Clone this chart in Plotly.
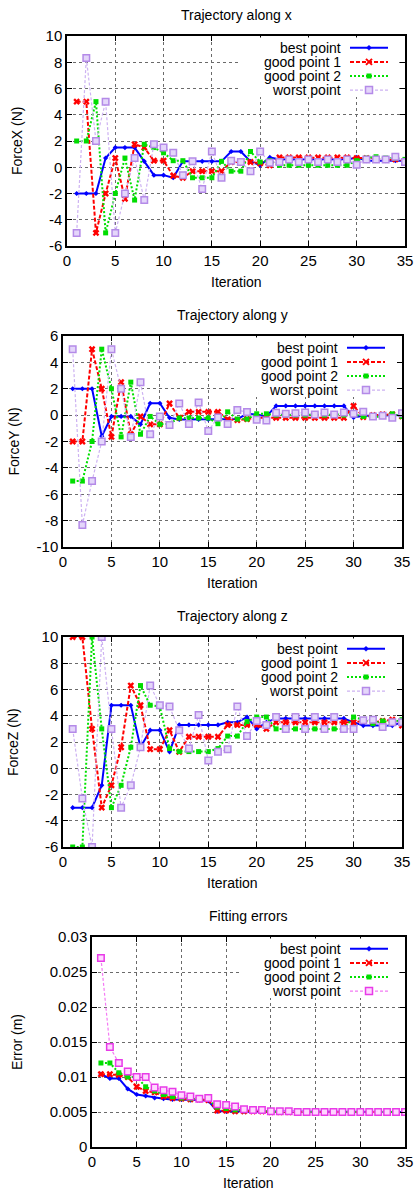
import plotly.graph_objects as go

W, H = 414, 1192

iterations = list(range(1, 36))

# ---- Trajectory along x ----
best_x = [-2, -2, -2, 0.7, 1.5, 1.5, 1.5, 0.45, -0.6, -0.6, -0.8, 0.45, 0.45, 0.45, 0.45, 0.45, 1.2, 1.2,
          0.45, 0.15, 0.75, 0.6, 0.6, 0.6, 0.6, 0.6, 0.6, 0.6, 0.6, 0.75, 0.5, 0.5, 0.5, 0.5, 0.5]
good1_x = [5, 5, -5, -2, 0.7, -2.4, 1.75, 1.5, 0.5, 0.5, -0.65, -0.8, -0.3, -0.3, -0.3, -0.3, 0.4, 0.4,
           0.4, 0.3, 0.15, 0.75, 0.75, 0.75, 0.75, 0.75, 0.75, 0.75, 0.75, 0.7, 0.7, 0.6, 0.6, 0.6, 0.5]
good2_x = [2, 2, 5, -5, -2, 0.7, -2.5, 1.75, 1.5, 1.1, 0.5, 0.5, -0.8, -0.8, -0.8, 0.45, -0.3, -0.3,
           1.2, 0.4, 0.5, 0.15, 0.15, 0.15, 0.15, 0.15, 0.15, 0.15, 0.15, 0.5, 0.7, 0.8, 0.7, 0.7, 0.6]
worst_x = [-5, 8.33, 2, 5, -5, -2, 0.7, -2.5, 1.75, 1.5, 1.1, -0.6, 0.45, -1.65, 1.2, -0.8, 0.5, 0.4,
           -0.3, 1.2, 0.35, 0.4, 0.6, 0.4, 0.6, 0.4, 0.6, 0.4, 0.6, 0.2, 0.6, 0.6, 0.6, 0.8, 0.4]

# ---- Trajectory along y ----
best_y = [2, 2, 2, -1.6, -0.1, -0.1, -0.1, -0.7, 0.9, 0.9, -0.2, -0.33, -0.33, -0.33, -0.33, -0.33, -0.33,
          -0.3, 0.1, 0.05, -0.1, 0.7, 0.7, 0.7, 0.7, 0.7, 0.7, 0.7, 0.7, -0.18, -0.05, -0.05, -0.05, -0.05, 0.0]
good1_y = [-2, -2, 5, 2, -1.65, 2.5, -1.45, -0.1, -0.7, -0.7, 0.88, -0.2, 0.25, 0.25, 0.25, 0.25, -0.33,
           -0.38, -0.3, -0.2, -0.2, -0.2, -0.2, -0.2, -0.2, -0.2, -0.2, -0.2, -0.2, 0.7, -0.15, 0.0, 0.05, 0.05, -0.1]
good2_y = [-5, -5, -2, 5, 2, -1.65, 2.5, -1.45, -0.1, -0.7, -0.65, -0.22, -0.22, -0.22, -0.22, -0.65, 0.25,
           -0.3, -0.3, 0.1, 0.1, 0.0, 0.0, 0.0, 0.0, 0.0, 0.0, 0.0, 0.0, 0.05, -0.1, -0.15, -0.1, 0.1, -0.1]
worst_y = [5, -8.33, -5, -2, 5, 2, -1.65, 2.5, -1.45, -0.1, -0.75, 0.88, -0.68, 0.95, -1.2, -0.18, -0.68,
           0.38, 0.23, -0.35, -0.4, 0.18, 0.1, 0.15, 0.2, 0.05, 0.2, 0.05, 0.2, 0.1, 0.25, -0.1, -0.05, -0.2, 0.15]

# ---- Trajectory along z ----
best_z = [-3, -3, -3, -1.3, 4.8, 4.8, 4.8, 1.6, 2.9, 2.9, 1.25, 3.3, 3.3, 3.3, 3.3, 3.3, 3.5, 3.5, 3.9,
          3.0, 3.5, 3.8, 3.8, 3.8, 3.8, 3.8, 3.8, 3.8, 3.8, 3.5, 3.25, 3.25, 3.25, 3.25, 3.5]
good1_z = [10, 10, 3, -3, -1.3, 1.6, 6.3, 4.8, 1.45, 1.45, 2.9, 1.25, 2.4, 2.4, 2.4, 2.4, 3.3, 3.3, 3.3,
           3.3, 3.0, 3.5, 3.5, 3.5, 3.5, 3.5, 3.5, 3.5, 3.5, 3.5, 3.6, 3.5, 3.6, 3.7, 3.25]
good2_z = [-6, -6, 10, 3, -3, -1.3, 1.6, 6.3, 4.8, 4.7, 1.5, 1.27, 1.27, 1.27, 1.27, 1.5, 2.45, 2.45, 3.55,
           3.9, 3.9, 3.0, 3.0, 3.0, 3.0, 3.0, 3.0, 3.0, 3.0, 3.9, 3.7, 3.4, 3.6, 3.5, 3.7]
worst_z = [3, -2.3, -6, 10, 3, -3, -1.3, 1.6, 6.3, 4.8, 4.7, 2.9, 1.5, 4.05, 0.6, 1.25, 1.45, 4.7, 2.45,
           3.6, 3.3, 3.9, 3.0, 3.9, 3.0, 3.9, 3.0, 3.9, 3.0, 3.0, 3.65, 3.7, 3.15, 3.5, 3.5]

# ---- Fitting errors ----
best_e = [0.0104, 0.0098, 0.0098, 0.0083, 0.0075, 0.0073, 0.0070, 0.0069, 0.0068, 0.0068, 0.0067, 0.0067,
          0.0066, 0.0051, 0.0051, 0.0051, 0.0051, 0.0051, 0.0051, 0.0050, 0.0050, 0.0050, 0.0050, 0.0050,
          0.0050, 0.0050, 0.0050, 0.0050, 0.0050, 0.0050, 0.0050, 0.0050, 0.0050, 0.0050, 0.0050]
good1_e = [0.0104, 0.0104, 0.0103, 0.0100, 0.0086, 0.0080, 0.0078, 0.0072, 0.0070, 0.0069, 0.0068, 0.0068,
           0.0067, 0.0052, 0.0052, 0.0051, 0.0051, 0.0051, 0.0051, 0.0050, 0.0050, 0.0050, 0.0050, 0.0050,
           0.0050, 0.0050, 0.0050, 0.0050, 0.0050, 0.0050, 0.0050, 0.0050, 0.0050, 0.0050, 0.0050]
good2_e = [0.0120, 0.0120, 0.0106, 0.0100, 0.0100, 0.0086, 0.0080, 0.0075, 0.0072, 0.0070, 0.0069, 0.0068,
           0.0068, 0.0057, 0.0055, 0.0053, 0.0052, 0.0052, 0.0051, 0.0051, 0.0050, 0.0050, 0.0050, 0.0050,
           0.0050, 0.0050, 0.0050, 0.0050, 0.0050, 0.0050, 0.0050, 0.0050, 0.0050, 0.0050, 0.0050]
worst_e = [0.0270, 0.0143, 0.0120, 0.0108, 0.0100, 0.0100, 0.0085, 0.0081, 0.0079, 0.0074, 0.0072, 0.0069,
           0.0070, 0.0061, 0.0060, 0.0058, 0.0054, 0.0053, 0.0053, 0.0051, 0.0051, 0.0051, 0.0050, 0.0050,
           0.0050, 0.0050, 0.0050, 0.0050, 0.0050, 0.0050, 0.0050, 0.0050, 0.0050, 0.0050, 0.0050]

series_names = ["best point", "good point 1", "good point 2", "worst point"]
panel_titles = ["Trajectory along x", "Trajectory along y", "Trajectory along z", "Fitting errors"]
y_titles = ["ForceX (N)", "ForceY (N)", "ForceZ (N)", "Error (m)"]
x_title = "Iteration"

x_ticks = [0, 5, 10, 15, 20, 25, 30, 35]
force_ticks_a = [-6, -4, -2, 0, 2, 4, 6, 8, 10]
force_ticks_b = [-10, -8, -6, -4, -2, 0, 2, 4, 6]
error_ticks = [0, 0.005, 0.01, 0.015, 0.02, 0.025, 0.03]
error_tick_labels = ["0", "0.005", "0.01", "0.015", "0.02", "0.025", "0.03"]

panels_data = [
    [best_x, good1_x, good2_x, worst_x],
    [best_y, good1_y, good2_y, worst_y],
    [best_z, good1_z, good2_z, worst_z],
    [best_e, good1_e, good2_e, worst_e],
]

# pixel boxes of plot areas: (left, right, top, bottom)
boxes = [(67, 405, 36, 246), (63, 402, 336, 547), (63, 402, 637, 847), (92, 405, 937, 1147)]
y_ranges = [[-6, 10], [-10, 6], [-6, 10], [0, 0.03]]
y_tickvals = [force_ticks_a, force_ticks_b, force_ticks_a, error_ticks]
y_ticktext = [[str(v) for v in force_ticks_a], [str(v) for v in force_ticks_b],
              [str(v) for v in force_ticks_a], error_tick_labels]
ytitle_x = [17, 13, 13, 17]

FONT = "Liberation Sans, Arial, sans-serif"


def px(x):
    return x / W


def py(y):
    return 1 - y / H


def styles(panel):
    worst_line = "#cdb2f2" if panel < 3 else "#f47af4"
    worst_mark = "#b48ae8" if panel < 3 else "#e83ae8"
    worst_fill = "#e4d6fa" if panel < 3 else "#ffd6ff"
    return [
        dict(line=dict(color="#0000ff", width=2),
             marker=dict(symbol="diamond", size=4, color="#0000ff")),
        dict(line=dict(color="#ff0000", width=2, dash="4px,2px"),
             marker=dict(symbol="x", size=6, color="#ff0000")),
        dict(line=dict(color="#00e000", width=2, dash="2px,2px"),
             marker=dict(symbol="square", size=5, color="#00dd00")),
        dict(line=dict(color=worst_line, width=1.2, dash="3px,2px"),
             marker=dict(symbol="square", size=6.5, color=worst_fill,
                         line=dict(color=worst_mark, width=1.5))),
    ]


def pathstr(points, close=True):
    s = "M " + " L ".join(f"{px(a):.5f},{py(b):.5f}" for a, b in points)
    return s + (" Z" if close else "")


fig = go.Figure()
annotations = []
shapes = []
layout = dict(
    width=W, height=H,
    margin=dict(l=0, r=0, t=0, b=0, autoexpand=False),
    paper_bgcolor="white", plot_bgcolor="white",
    font=dict(family=FONT, size=14, color="black"),
    showlegend=False,
)

for p in range(4):
    ax = "" if p == 0 else str(p + 1)
    st = styles(p)
    for s in range(4):
        fig.add_trace(go.Scatter(
            x=iterations, y=panels_data[p][s], name=series_names[s],
            mode="lines+markers", line=st[s]["line"], marker=st[s]["marker"],
            xaxis="x" + ax, yaxis="y" + ax,
        ))
    l, r, t, b = boxes[p]
    common = dict(
        showline=True, linecolor="black", linewidth=1.5, mirror="ticks",
        ticks="inside", ticklen=5, tickcolor="black", tickwidth=1,
        showgrid=True, gridcolor="#6a6a6a", griddash="dot", gridwidth=1,
        zeroline=False, tickfont=dict(size=15, color="black", family=FONT),
        fixedrange=True, automargin=False,
    )
    layout["xaxis" + ax] = dict(
        common, domain=[px(l), px(r)], range=[0, 35], tickvals=x_ticks,
        ticktext=[str(v) for v in x_ticks], anchor="y" + ax,
    )
    layout["yaxis" + ax] = dict(
        common, domain=[py(b), py(t)], range=y_ranges[p], tickvals=y_tickvals[p],
        ticktext=y_ticktext[p], anchor="x" + ax,
    )

    # key box (white, hides the grid like gnuplot's key)
    shapes.append(dict(type="rect", xref="paper", yref="paper",
                       x0=px(r - 166), x1=px(r - 6), y0=py(t + 61), y1=py(t + 1.5),
                       fillcolor="white", line=dict(width=0), layer="above"))
    for s in range(4):
        ry = t + 11.8 + 14.1 * s
        annotations.append(dict(text=series_names[s], x=px(r - 63), y=py(ry), xref="paper", yref="paper",
                                showarrow=False, xanchor="right", yanchor="middle",
                                font=dict(size=14), borderpad=0))
        ln = st[s]["line"]
        shapes.append(dict(type="line", xref="paper", yref="paper", x0=px(r - 55), x1=px(r - 17),
                           y0=py(ry), y1=py(ry),
                           line=dict(color=ln["color"], width=ln["width"], dash=ln.get("dash", "solid"))))
        cx, cy = r - 36, ry
        mk = st[s]["marker"]
        if s == 0:
            shapes.append(dict(type="path", xref="paper", yref="paper",
                               path=pathstr([(cx - 2.5, cy), (cx, cy - 2.5), (cx + 2.5, cy), (cx, cy + 2.5)]),
                               fillcolor=mk["color"], line=dict(color=mk["color"], width=0.5)))
        elif s == 1:
            shapes.append(dict(type="path", xref="paper", yref="paper",
                               path=pathstr([(cx - 3, cy - 3), (cx + 3, cy + 3)], close=False) + " " +
                               pathstr([(cx - 3, cy + 3), (cx + 3, cy - 3)], close=False),
                               line=dict(color=mk["color"], width=2)))
        elif s == 2:
            shapes.append(dict(type="rect", xref="paper", yref="paper",
                               x0=px(cx - 2.5), x1=px(cx + 2.5), y0=py(cy + 2.5), y1=py(cy - 2.5),
                               fillcolor=mk["color"], line=dict(width=0)))
        else:
            shapes.append(dict(type="rect", xref="paper", yref="paper",
                               x0=px(cx - 3.5), x1=px(cx + 3.5), y0=py(cy + 3.5), y1=py(cy - 3.5),
                               fillcolor=mk["color"], line=dict(color=mk["line"]["color"], width=1.5)))

    cx_mid = (l + r) / 2
    annotations.append(dict(text=panel_titles[p], x=px(cx_mid), y=py(t - 21), xref="paper", yref="paper",
                            showarrow=False, font=dict(size=14), xanchor="center", yanchor="middle"))
    annotations.append(dict(text=x_title, x=px(cx_mid), y=py(b + 36), xref="paper", yref="paper",
                            showarrow=False, font=dict(size=14), xanchor="center", yanchor="middle"))
    annotations.append(dict(text=y_titles[p], x=px(ytitle_x[p]), y=py((t + b) / 2), xref="paper",
                            yref="paper", showarrow=False, font=dict(size=14), textangle=-90,
                            xanchor="center", yanchor="middle"))

layout["annotations"] = annotations
layout["shapes"] = shapes
fig.update_layout(**layout)
fig.write_html("out.html", config={"displayModeBar": False, "staticPlot": False},
               post_script="document.body.style.margin='0';document.body.style.overflow='hidden';")
